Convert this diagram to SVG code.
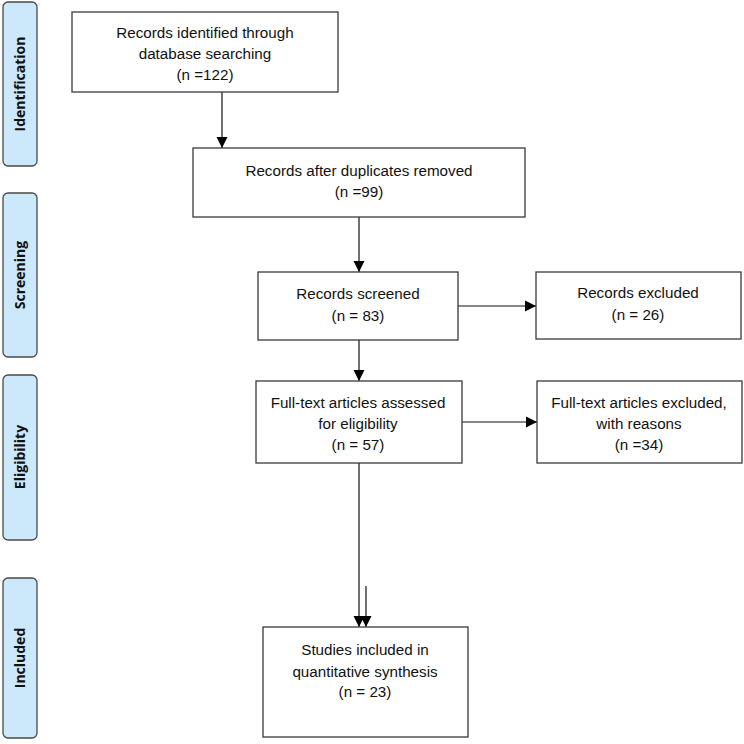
<svg xmlns="http://www.w3.org/2000/svg" width="744" height="744" viewBox="0 0 744 744">
<style>
.bar{fill:#cce8fb;stroke:#4a4a4a;stroke-width:1.3}
.box{fill:#fff;stroke:#3a3a3a;stroke-width:1.3}
.t{font-family:"Liberation Sans",Arial,sans-serif;font-size:15.2px;fill:#111;text-anchor:middle}
.s{font-family:"Open Sans","Liberation Sans",sans-serif;font-size:14px;font-weight:bold;fill:#111;text-anchor:middle}
.c{stroke:#111;stroke-width:1.2;fill:none}
</style>
<defs>
<marker id="ah" markerWidth="12" markerHeight="12" refX="11" refY="6" orient="auto" markerUnits="userSpaceOnUse">
<path d="M0,0.5 L11,6 L0,11.5 Z" fill="#000"/>
</marker>
</defs>
<rect width="744" height="744" fill="#fff"/>
<g id="phase-identification"><rect class="bar" x="3" y="2" width="34" height="164" rx="5"/><text class="s" transform="translate(25,84) rotate(-90)">Identification</text></g>
<g id="phase-screening"><rect class="bar" x="3" y="193" width="34" height="164" rx="5"/><text class="s" transform="translate(25,275) rotate(-90)">Screening</text></g>
<g id="phase-eligibility"><rect class="bar" x="3" y="375" width="34" height="165" rx="5"/><text class="s" transform="translate(25,457) rotate(-90)">Eligibility</text></g>
<g id="phase-included"><rect class="bar" x="3" y="578" width="34" height="160" rx="5"/><text class="s" transform="translate(25,658) rotate(-90)">Included</text></g>

<g id="connectors">
<line class="c" x1="222" y1="92" x2="222" y2="148" marker-end="url(#ah)"/>
<line class="c" x1="359" y1="217" x2="359" y2="272" marker-end="url(#ah)"/>
<line class="c" x1="458" y1="306" x2="536" y2="306" marker-end="url(#ah)"/>
<line class="c" x1="359" y1="340" x2="359" y2="381" marker-end="url(#ah)"/>
<line class="c" x1="462" y1="422" x2="537" y2="422" marker-end="url(#ah)"/>
<line class="c" x1="359" y1="463" x2="359" y2="627" marker-end="url(#ah)"/>
<line class="c" x1="366" y1="586" x2="366" y2="627" marker-end="url(#ah)"/>
</g>

<g id="n1"><rect class="box" x="72" y="12" width="266" height="80"/>
<text class="t" x="205" y="38">Records identified through</text>
<text class="t" x="205" y="59">database searching</text>
<text class="t" x="205" y="80">(n =122)</text></g>
<g id="n2"><rect class="box" x="193" y="148" width="332" height="69"/>
<text class="t" x="359" y="176">Records after duplicates removed</text>
<text class="t" x="359" y="197">(n =99)</text></g>
<g id="n3"><rect class="box" x="258" y="272" width="200" height="68"/>
<text class="t" x="358" y="299">Records screened</text>
<text class="t" x="358" y="321">(n = 83)</text></g>
<g id="n4"><rect class="box" x="536" y="272" width="205" height="67"/>
<text class="t" x="638" y="298">Records excluded</text>
<text class="t" x="638" y="320">(n = 26)</text></g>
<g id="n5"><rect class="box" x="256" y="381" width="206" height="82"/>
<text class="t" x="358" y="408">Full-text articles assessed</text>
<text class="t" x="358" y="429">for eligibility</text>
<text class="t" x="358" y="450">(n = 57)</text></g>
<g id="n6"><rect class="box" x="537" y="381" width="205" height="82"/>
<text class="t" x="639" y="408">Full-text articles excluded,</text>
<text class="t" x="639" y="429">with reasons</text>
<text class="t" x="639" y="450">(n =34)</text></g>
<g id="n7"><rect class="box" x="263" y="627" width="205" height="110"/>
<text class="t" x="365" y="655">Studies included in</text>
<text class="t" x="365" y="677">quantitative synthesis</text>
<text class="t" x="365" y="697">(n = 23)</text></g>
</svg>
